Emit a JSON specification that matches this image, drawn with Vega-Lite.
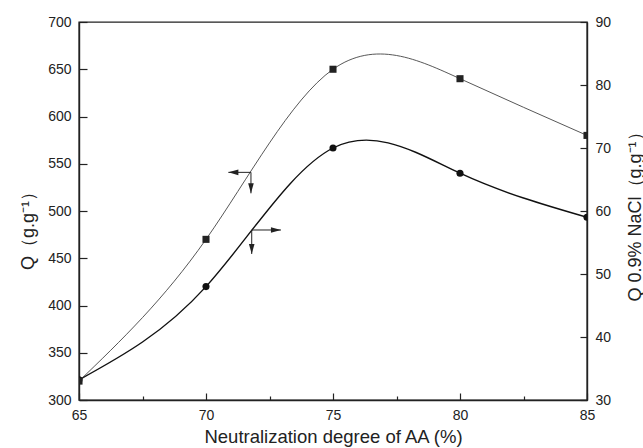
{
  "$schema": "https://vega.github.io/schema/vega-lite/v6.json",
  "width": 508,
  "height": 378,
  "autosize": "none",
  "padding": {"left": 79, "top": 22, "right": 56, "bottom": 48},
  "config": {
    "view": {"stroke": "#222", "strokeWidth": 1.4},
    "font": "Liberation Sans",
    "axis": {
      "domainColor": "#222", "domainWidth": 1.4,
      "tickColor": "#222", "tickWidth": 1.2,
      "labelFont": "Liberation Sans", "labelFontSize": 14, "labelColor": "#222",
      "titleFont": "Liberation Sans", "titleFontSize": 18, "titleColor": "#222", "titleFontWeight": "normal",
      "grid": false, "labelOverlap": false, "labelFlush": false
    }
  },
  "datasets": {
    "q": [
      {"nd": 65, "Q": 320}, {"nd": 70, "Q": 470}, {"nd": 75, "Q": 650}, {"nd": 80, "Q": 640}, {"nd": 85, "Q": 580}
    ],
    "qs": [
      {"nd": 65, "Qs": 33.2}, {"nd": 70, "Qs": 48}, {"nd": 75, "Qs": 70}, {"nd": 80, "Qs": 66}, {"nd": 85, "Qs": 59}
    ],
    "arrows": [
      {"ax": 71.77, "ay": 540.9, "bx": 70.88, "by": 540.9, "dir": "left"},
      {"ax": 71.77, "ay": 540.9, "bx": 71.77, "by": 518.7, "dir": "down"},
      {"ax": 71.80, "ay": 479.9, "bx": 72.95, "by": 479.9, "dir": "right"},
      {"ax": 71.80, "ay": 479.9, "bx": 71.80, "by": 454.5, "dir": "down"}
    ]
  },
  "encoding": {
    "x": {
      "field": "nd", "type": "quantitative",
      "scale": {"domain": [65, 85], "nice": false, "zero": false},
      "axis": {
        "title": "Neutralization degree of AA (%)",
        "values": [65, 67.5, 70, 72.5, 75, 77.5, 80, 82.5, 85],
        "labelExpr": "datum.value % 5 === 0 ? datum.label : ''",
        "tickSize": {"condition": {"test": "datum.value % 5 === 0", "value": -7}, "value": -4},
        "labelPadding": 15,
        "titleFontSize": 18.5,
        "titleY": 42,
        "titleBaseline": "alphabetic"
      }
    }
  },
  "layer": [
    {
      "layer": [
        {
          "data": {"name": "qs"},
          "mark": {"type": "line", "interpolate": "natural", "color": "#111", "strokeWidth": 1.4, "clip": true},
          "encoding": {
            "y": {
              "field": "Qs", "type": "quantitative",
              "scale": {"domain": [30, 90], "nice": false, "zero": false},
              "axis": {
                "orient": "right",
                "title": "Q 0.9% NaCl（g.g⁻¹）",
                "values": [30, 35, 40, 45, 50, 55, 60, 65, 70, 75, 80, 85, 90],
                "labelExpr": "datum.value % 10 === 0 ? datum.label : ''",
                "tickSize": {"condition": {"test": "datum.value % 10 === 0", "value": -7}, "value": -3.5},
                "labelPadding": 15,
                "titleAngle": 270,
                "titleX": 48,
                "titleY": 190,
                "titleBaseline": "middle",
                "titleAlign": "center"
              }
            }
          }
        },
        {
          "data": {"name": "qs"},
          "mark": {"type": "point", "shape": "circle", "filled": true, "size": 50, "color": "#111", "opacity": 1, "clip": true},
          "encoding": {
            "y": {"field": "Qs", "type": "quantitative", "scale": {"domain": [30, 90], "nice": false, "zero": false}}
          }
        }
      ]
    },
    {
      "layer": [
        {
          "data": {"name": "q"},
          "mark": {"type": "line", "interpolate": "natural", "color": "#444", "strokeWidth": 0.9, "clip": true},
          "encoding": {
            "y": {
              "field": "Q", "type": "quantitative",
              "scale": {"domain": [300, 700], "nice": false, "zero": false},
              "axis": {
                "orient": "left",
                "title": "Q（g.g⁻¹）",
                "values": [300, 325, 350, 375, 400, 425, 450, 475, 500, 525, 550, 575, 600, 625, 650, 675, 700],
                "labelExpr": "datum.value % 50 === 0 ? datum.label : ''",
                "tickSize": {"condition": {"test": "datum.value % 50 === 0", "value": -8}, "value": -4},
                "labelPadding": 16,
                "titleAngle": 270,
                "titleX": -51,
                "titleY": 204,
                "titleBaseline": "middle",
                "titleAlign": "center"
              }
            }
          }
        },
        {
          "data": {"name": "q"},
          "mark": {"type": "point", "shape": "square", "filled": true, "size": 50, "color": "#222", "opacity": 1, "clip": true},
          "encoding": {
            "y": {"field": "Q", "type": "quantitative", "scale": {"domain": [300, 700], "nice": false, "zero": false}}
          }
        },
        {
          "data": {"name": "arrows"},
          "mark": {"type": "rule", "color": "#222", "strokeWidth": 1},
          "encoding": {
            "x": {"field": "ax", "type": "quantitative"},
            "x2": {"field": "bx"},
            "y": {"field": "ay", "type": "quantitative", "scale": {"domain": [300, 700], "nice": false, "zero": false}},
            "y2": {"field": "by"}
          }
        },
        {
          "data": {"name": "arrows"},
          "mark": {"type": "point", "filled": true, "size": 400, "color": "#222", "opacity": 1},
          "encoding": {
            "x": {"field": "bx", "type": "quantitative"},
            "y": {"field": "by", "type": "quantitative", "scale": {"domain": [300, 700], "nice": false, "zero": false}},
            "shape": {
              "field": "dir", "type": "nominal",
              "scale": {"domain": ["left", "down", "right"], "range": ["M0,0L1,-0.28L1,0.28Z", "M0,0L-0.28,-1L0.28,-1Z", "M0,0L-1,-0.28L-1,0.28Z"]},
              "legend": null
            }
          }
        }
      ]
    }
  ],
  "resolve": {"scale": {"y": "independent"}}
}
